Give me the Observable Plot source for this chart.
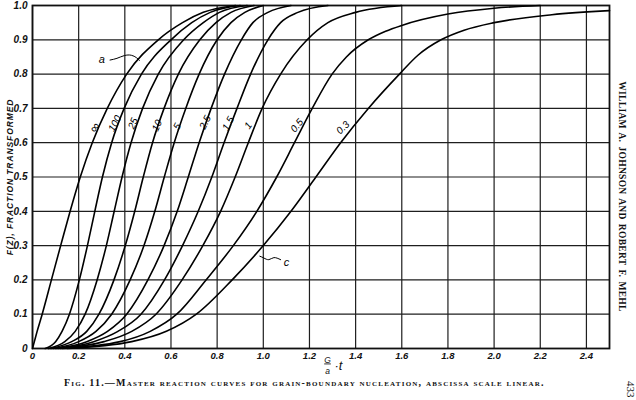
<!DOCTYPE html>
<html><head><meta charset="utf-8">
<script src="https://cdn.jsdelivr.net/npm/d3@7"></script>
<script src="https://cdn.jsdelivr.net/npm/@observablehq/plot@0.6"></script>
<style>
body{margin:0;background:#fff;}
#wrap{position:relative;width:636px;height:400px;overflow:hidden;background:#fff;}
#cap{position:absolute;left:64px;top:377px;font-family:"Liberation Serif",serif;font-weight:bold;font-size:10px;font-variant:small-caps;letter-spacing:1.2px;white-space:nowrap;color:#111;}
#page{position:absolute;left:637px;top:381px;font-family:"Liberation Serif",serif;font-size:11px;transform:rotate(90deg);transform-origin:left top;color:#111;}
</style></head><body>
<div id="wrap"><div id="chart"></div>
<div id="cap">Fig. 11.—Master reaction curves for grain-boundary nucleation, abscissa scale linear.</div>
<div id="page">433</div></div>
<script>
// ---- data ----
const curveNames = ["∞","100","25","10","5","2.5","1.5","1","0.5","0.3"];
const yLevels = [0,0.02,0.05,0.1,0.2,0.3,0.4,0.5,0.6,0.7,0.8,0.9,0.95,0.98,1.0];
const xInf = [0,0.008,0.02,0.042,0.082,0.122,0.163,0.207,0.259,0.324,0.408,0.545,0.65,0.74,0.88];
const x100 = [0.055,0.1,0.128,0.16,0.203,0.238,0.27,0.303,0.343,0.397,0.472,0.6,0.69,0.77,0.9];
const x25  = [0.07,0.14,0.185,0.228,0.28,0.32,0.354,0.388,0.427,0.477,0.545,0.655,0.74,0.81,0.93];
const x10  = [0.08,0.17,0.235,0.288,0.353,0.402,0.443,0.48,0.52,0.57,0.632,0.725,0.795,0.86,0.96];
const x5   = [0.09,0.2,0.275,0.343,0.423,0.483,0.53,0.571,0.614,0.664,0.722,0.8,0.86,0.92,1.0];
const x2_5 = [0.1,0.235,0.325,0.408,0.5,0.57,0.627,0.675,0.722,0.774,0.832,0.905,0.955,1.02,1.12];
const x1_5 = [0.11,0.265,0.37,0.47,0.572,0.65,0.718,0.777,0.83,0.886,0.945,1.02,1.075,1.15,1.28];
const x1   = [0.12,0.31,0.43,0.535,0.648,0.738,0.815,0.878,0.935,0.995,1.075,1.19,1.28,1.4,1.6];
const x0_5 = [0.13,0.38,0.51,0.625,0.752,0.87,0.972,1.058,1.135,1.212,1.298,1.36,1.455,1.53,1.6,1.8,2.0,2.2];
const y0_5 = [0,0.02,0.05,0.1,0.2,0.3,0.4,0.5,0.6,0.7,0.8,0.85,0.9,0.925,0.942,0.975,0.992,1.0];
const x0_3 = [0.15,0.43,0.58,0.71,0.865,1.0,1.12,1.228,1.335,1.455,1.59,1.67,1.77,1.87,2.0,2.25,2.5];
const y0_3 = [0,0.02,0.05,0.1,0.2,0.3,0.4,0.5,0.6,0.7,0.8,0.855,0.9,0.928,0.95,0.973,0.985];
const xTicks = [0,0.2,0.4,0.6,0.8,1.0,1.2,1.4,1.6,1.8,2.0,2.2,2.4];
const yTicks = [0,0.1,0.2,0.3,0.4,0.5,0.6,0.7,0.8,0.9,1.0];
// curve label anchors (data units) and annotation letters
const labelX = [0.27,0.357,0.436,0.54,0.627,0.748,0.848,0.935,1.146,1.345];
const labelY = [0.644,0.656,0.656,0.65,0.647,0.659,0.656,0.65,0.65,0.644];
const labelAngle = [-55,-62,-68,-66,-62,-64,-62,-55,-50,-45];
const annA = {t:"a", x:0.3, y:0.843};
const annC = {t:"c", x:1.1, y:0.25};
const squigA = [[0.336,0.841],[0.366,0.846],[0.398,0.854],[0.428,0.855],[0.45,0.848],[0.463,0.84]];
const squigC = [[1.075,0.259],[1.046,0.265],[1.024,0.259],[1.002,0.264],[0.985,0.269]];

// ---- build tables ----
const xSets = [xInf,x100,x25,x10,x5,x2_5,x1_5,x1,x0_5,x0_3];
const rows = [];
xSets.forEach((xs,i)=>{
  const ys = i===8 ? y0_5 : i===9 ? y0_3 : yLevels;
  xs.forEach((x,j)=>rows.push({k:curveNames[i], x, y:ys[j]}));
});
const labels = curveNames.map((t,i)=>({t, x:labelX[i], y:labelY[i], r:labelAngle[i]}));
const fmt = d => d===0 ? "0" : d.toFixed(1);
const tickFont = {fontStyle:"italic", fontWeight:"bold", fontFamily:"Liberation Sans, Arial, sans-serif"};

const chart = Plot.plot({
  width:636, height:378,
  marginLeft:32, marginRight:27, marginTop:5, marginBottom:30,
  style:{background:"white", color:"#111", fontFamily:"Liberation Sans, Arial, sans-serif"},
  x:{domain:[0,2.5]},
  y:{domain:[0,1]},
  marks:[
    Plot.ruleX(xTicks, {stroke:"#1e1e1e", strokeWidth:1.2}),
    Plot.ruleY(yTicks, {stroke:"#1e1e1e", strokeWidth:1.2}),
    Plot.frame({stroke:"#111", strokeWidth:1.8}),
    Plot.line(rows, {x:"x", y:"y", z:"k", stroke:"#000", strokeWidth:1.6, curve:"monotone-x"}),
    Plot.text(labels, {x:"x", y:"y", text:"t", rotate:"r", fontSize:d=>d.t==="∞"?13:10, fontStyle:"italic", fill:"#000", fontFamily:"Liberation Sans, Arial, sans-serif"}),
    Plot.text([annA, annC], {x:"x", y:"y", text:"t", fontSize:11, fontStyle:"italic", fill:"#000"}),
    Plot.line(squigA, {x:d=>d[0], y:d=>d[1], stroke:"#000", strokeWidth:1, curve:"natural"}),
    Plot.line(squigC, {x:d=>d[0], y:d=>d[1], stroke:"#000", strokeWidth:1, curve:"natural"}),
    Plot.axisX({ticks:xTicks, tickFormat:fmt, tickSize:0, tickPadding:4, label:null, fontSize:9.5, ...tickFont}),
    Plot.axisY({ticks:yTicks, tickFormat:fmt, tickSize:0, tickPadding:5, label:null, fontSize:10, ...tickFont}),
    Plot.text(["F(Z), FRACTION TRANSFORMED"], {frameAnchor:"left", textAnchor:"middle", dx:-22, rotate:-90, fontSize:8.5, fontStyle:"italic", fontWeight:"bold", fill:"#111"}),
    Plot.text(["WILLIAM A. JOHNSON AND ROBERT F. MEHL"], {frameAnchor:"right", textAnchor:"middle", dx:13, dy:19.5, rotate:90, fontSize:9.5, fontWeight:"bold", fontFamily:"Liberation Serif, serif", fill:"#111"}),
    Plot.text(["G"], {frameAnchor:"bottom", dx:6.5, dy:14, fontSize:8.5, fontStyle:"italic", fill:"#111"}),
    Plot.text(["a"], {frameAnchor:"bottom", dx:6.5, dy:25, fontSize:8.5, fontStyle:"italic", fill:"#111"}),
    Plot.text(["·t"], {frameAnchor:"bottom", dx:17.5, dy:21, fontSize:13, fontStyle:"italic", fill:"#111"})
  ]
});
d3.select(chart).selectAll("text").each(function(){
  const s = this.textContent;
  if (s.startsWith("F(Z)")) this.style.letterSpacing = "0.9px";
  if (s.startsWith("WILLIAM")) { this.style.letterSpacing = "0.3px"; this.style.wordSpacing = "1.5px"; }
  if (s === "G") this.style.textDecoration = "underline";
});
document.getElementById("chart").appendChild(chart);
</script>
</body></html>
